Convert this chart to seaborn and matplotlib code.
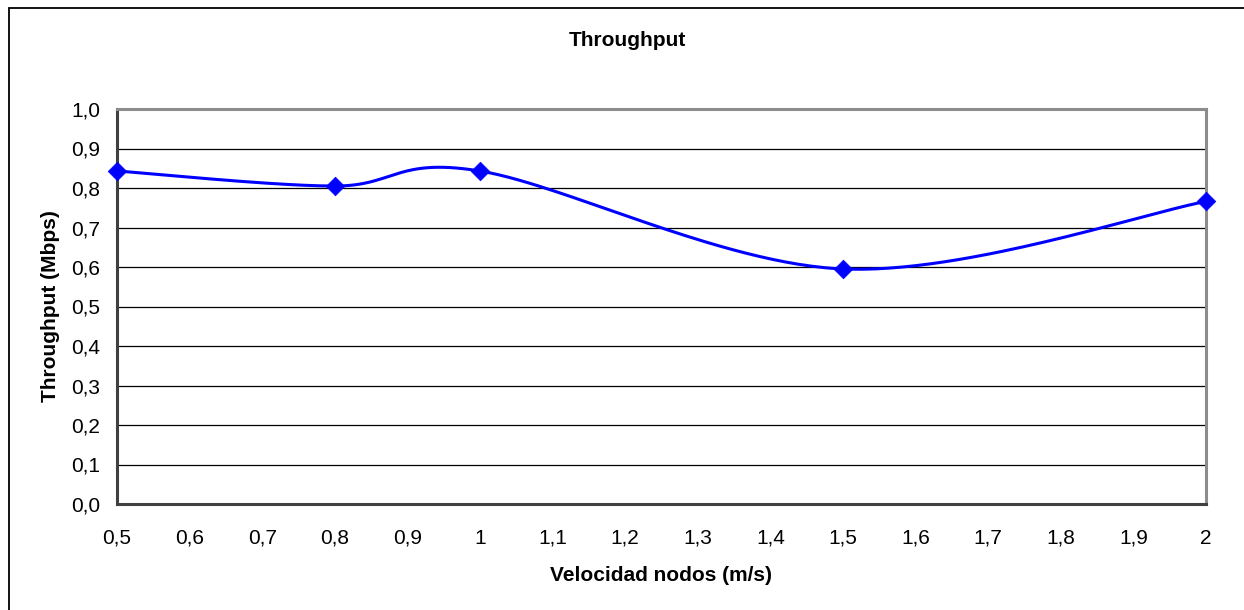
import matplotlib
matplotlib.use("Agg")
import matplotlib.pyplot as plt
import seaborn as sns
import numpy as np
import pandas as pd
from matplotlib.patches import Rectangle

# values
velocidad = [0.5, 0.8, 1.0, 1.5, 2.0]
throughput = [0.843, 0.805, 0.843, 0.595, 0.766]
x_ticks = [0.5, 0.6, 0.7, 0.8, 0.9, 1.0, 1.1, 1.2, 1.3, 1.4, 1.5, 1.6, 1.7, 1.8, 1.9, 2.0]
x_labels = ["0,5", "0,6", "0,7", "0,8", "0,9", "1", "1,1", "1,2", "1,3", "1,4", "1,5",
            "1,6", "1,7", "1,8", "1,9", "2"]
y_ticks = [0.0, 0.1, 0.2, 0.3, 0.4, 0.5, 0.6, 0.7, 0.8, 0.9, 1.0]
y_labels = ["0,0", "0,1", "0,2", "0,3", "0,4", "0,5", "0,6", "0,7", "0,8", "0,9", "1,0"]


def excel_smooth(xs, ys, n=60):
    # spreadsheet-style smoothed line: cubic bezier with catmull-rom control points
    px = [xs[0]] + list(xs) + [xs[-1]]
    py = [ys[0]] + list(ys) + [ys[-1]]
    out_x, out_y = [], []
    t = np.linspace(0, 1, n)
    for i in range(1, len(px) - 2):
        x0, y0 = px[i], py[i]
        x3, y3 = px[i + 1], py[i + 1]
        x1 = x0 + (px[i + 1] - px[i - 1]) / 6
        y1 = y0 + (py[i + 1] - py[i - 1]) / 6
        x2 = x3 - (px[i + 2] - px[i]) / 6
        y2 = y3 - (py[i + 2] - py[i]) / 6
        bx = (1 - t) ** 3 * x0 + 3 * (1 - t) ** 2 * t * x1 + 3 * (1 - t) * t ** 2 * x2 + t ** 3 * x3
        by = (1 - t) ** 3 * y0 + 3 * (1 - t) ** 2 * t * y1 + 3 * (1 - t) * t ** 2 * y2 + t ** 3 * y3
        out_x.extend(bx)
        out_y.extend(by)
    return np.array(out_x), np.array(out_y)


sns.set_style("white")
plt.rcParams['font.family'] = ['Liberation Sans', 'DejaVu Sans']
plt.rcParams['text.color'] = 'black'
plt.rcParams['axes.labelcolor'] = 'black'

fig = plt.figure(figsize=(12.44, 6.10), dpi=100)
ax = fig.add_axes([117 / 1244, 1 - 504 / 610, (1206 - 117) / 1244, (504 - 109) / 610])

sx, sy = excel_smooth(velocidad, throughput)
curve = pd.DataFrame({"x": sx, "y": sy})
points = pd.DataFrame({"x": velocidad, "y": throughput})

sns.lineplot(data=curve, x="x", y="y", sort=False, color="#0000FF", linewidth=2.2, ax=ax,
             zorder=3, clip_on=False)
sns.scatterplot(data=points, x="x", y="y", marker="D", s=90, color="#0000FF",
                edgecolor="#0000FF", linewidth=0.5, ax=ax, zorder=4, clip_on=False)

ax.set_xlim(0.5, 2.0)
ax.set_ylim(0.0, 1.0)
ax.set_xticks(x_ticks)
ax.set_xticklabels(x_labels)
ax.set_yticks(y_ticks)
ax.set_yticklabels(y_labels)
ax.tick_params(axis="both", labelsize=15, labelcolor="#000000", length=6, width=1.2,
               direction="out", color="#333333")
ax.tick_params(axis="y", pad=6)
ax.tick_params(axis="x", pad=12)
ax.grid(axis="y", color="black", linewidth=0.9)
ax.set_axisbelow(True)

ax.spines["left"].set_color("#404040")
ax.spines["bottom"].set_color("#404040")
ax.spines["top"].set_color("#8c8c8c")
ax.spines["right"].set_color("#8c8c8c")
for s in ax.spines.values():
    s.set_linewidth(2.2)
    s.set_visible(True)

ax.set_xlabel("Velocidad nodos (m/s)", fontsize=15, fontweight="bold", labelpad=13)
ax.set_ylabel("Throughput (Mbps)", fontsize=15, fontweight="bold", labelpad=8)
fig.text(627 / 1244, 1 - 40 / 610, "Throughput", fontsize=15, fontweight="bold",
         ha="center", va="center")

# outer chart frame (cropped at the right and bottom)
fig.patches.append(Rectangle((8.5 / 1244, -0.05), 1.2, 1 - 7.5 / 610 + 0.05,
                             transform=fig.transFigure, fill=False,
                             edgecolor="black", linewidth=1.3))

fig.savefig("out.png", dpi=100)
